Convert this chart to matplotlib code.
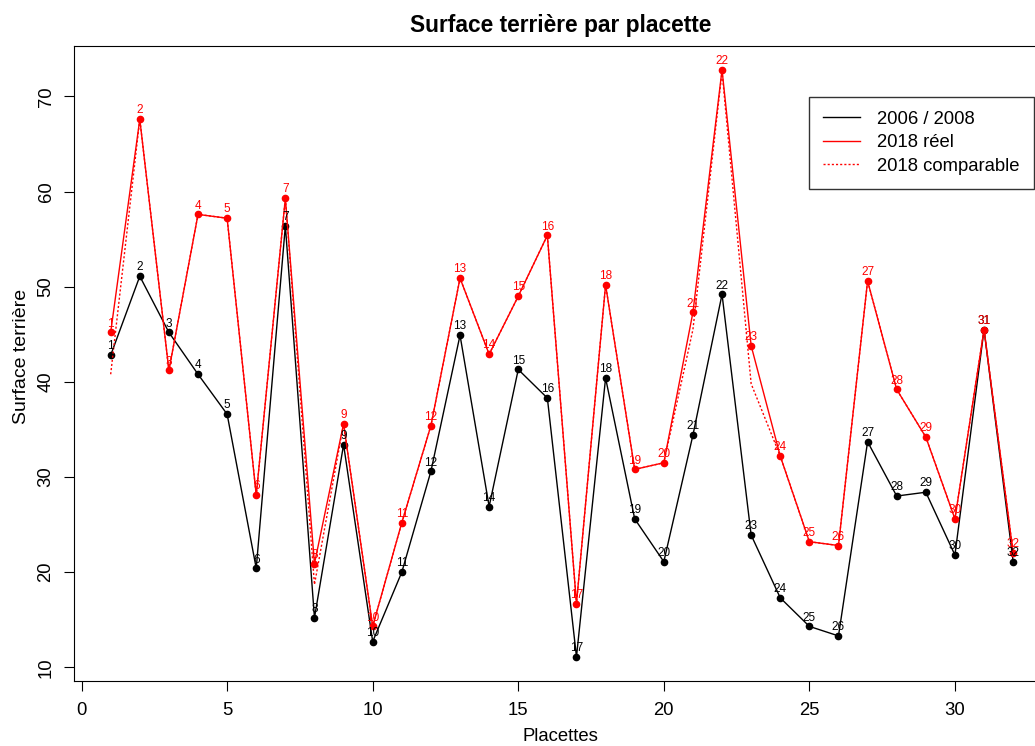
import matplotlib
matplotlib.use("Agg")
import matplotlib.pyplot as plt

plt.rcParams['font.family'] = ['Liberation Sans', 'DejaVu Sans']

placettes = list(range(1, 33))
surf_2006 = [42.8, 51.1, 45.2, 40.8, 36.6, 20.4, 56.4, 15.2, 33.4, 12.7,
             20.0, 30.6, 44.9, 26.9, 41.3, 38.3, 11.1, 40.4, 25.6, 21.1,
             34.4, 49.2, 23.9, 17.3, 14.3, 13.3, 33.7, 28.0, 28.4, 21.8,
             45.5, 21.1]
surf_2018 = [45.2, 67.6, 41.2, 57.6, 57.2, 28.1, 59.3, 20.9, 35.6, 14.3,
             25.2, 35.4, 50.9, 42.9, 49.0, 55.4, 16.7, 50.2, 30.8, 31.5,
             47.3, 72.8, 43.8, 32.2, 23.2, 22.8, 50.6, 39.2, 34.2, 25.6,
             45.5, 22.0]
surf_2018_comp = [40.8, 67.6, 41.2, 57.6, 57.2, 28.1, 59.3, 18.7, 35.6, 14.3,
                  25.2, 35.4, 50.9, 42.9, 49.0, 55.4, 16.7, 50.2, 30.8, 31.5,
                  45.5, 72.6, 39.8, 32.2, 23.2, 22.8, 50.6, 39.2, 34.2, 25.6,
                  45.5, 22.0]

fig = plt.figure(figsize=(10.35, 7.46), dpi=100)
ax = fig.add_axes([74 / 1035, 1 - 681 / 746, (1051 - 74) / 1035, (681 - 46) / 746])

ax.plot(placettes, surf_2006, color='black', lw=1, marker='o', ms=4.5, label='2006 / 2008')
ax.plot(placettes, surf_2018, color='red', lw=1, marker='o', ms=4.5, label='2018 réel')
ax.plot(placettes, surf_2018_comp, color='red', lw=1, ls=(0, (1.5, 1.5)), label='2018 comparable')

for x, y in zip(placettes, surf_2006):
    ax.annotate(str(x), (x, y), xytext=(0, 2), textcoords='offset points',
                ha='center', va='bottom', fontsize=8.5, color='black')
for x, y in zip(placettes, surf_2018):
    ax.annotate(str(x), (x, y), xytext=(0, 2), textcoords='offset points',
                ha='center', va='bottom', fontsize=8.5, color='red')

ax.set_xlim(-0.26, 33.3)
ax.set_ylim(8.56, 75.3)
ax.set_xticks(range(0, 31, 5))
ax.set_yticks(range(10, 71, 10))
ax.tick_params(axis='both', direction='out', length=7, labelsize=13.3, pad=8)
ax.tick_params(axis='y', pad=7)
for lab in ax.get_yticklabels():
    lab.set_rotation(90)
    lab.set_va('center')

ax.set_xlabel('Placettes', fontsize=13.3)
ax.set_ylabel('Surface terrière', fontsize=14)
ax.xaxis.set_label_coords((560.5 - 74) / 977, (681 - 728) / 635)
ax.yaxis.set_label_coords((30 - 74) / 977, (681 - 356) / 635)

fig.text(560.5 / 1035, 1 - 32 / 746, 'Surface terrière par placette',
         fontsize=16.4, fontweight='bold', ha='center', va='baseline')

leg = ax.legend(loc='upper left', bbox_to_anchor=(809 / 1035, 1 - 97 / 746),
                bbox_transform=fig.transFigure, fontsize=13.3, frameon=True,
                fancybox=False, edgecolor='black', handlelength=2.0,
                handletextpad=0.95, borderpad=0.75, labelspacing=0.35,
                borderaxespad=0)
leg.get_frame().set_linewidth(1)
for h in leg.legend_handles:
    h.set_marker('')

fig.savefig('out.png', dpi=100)
